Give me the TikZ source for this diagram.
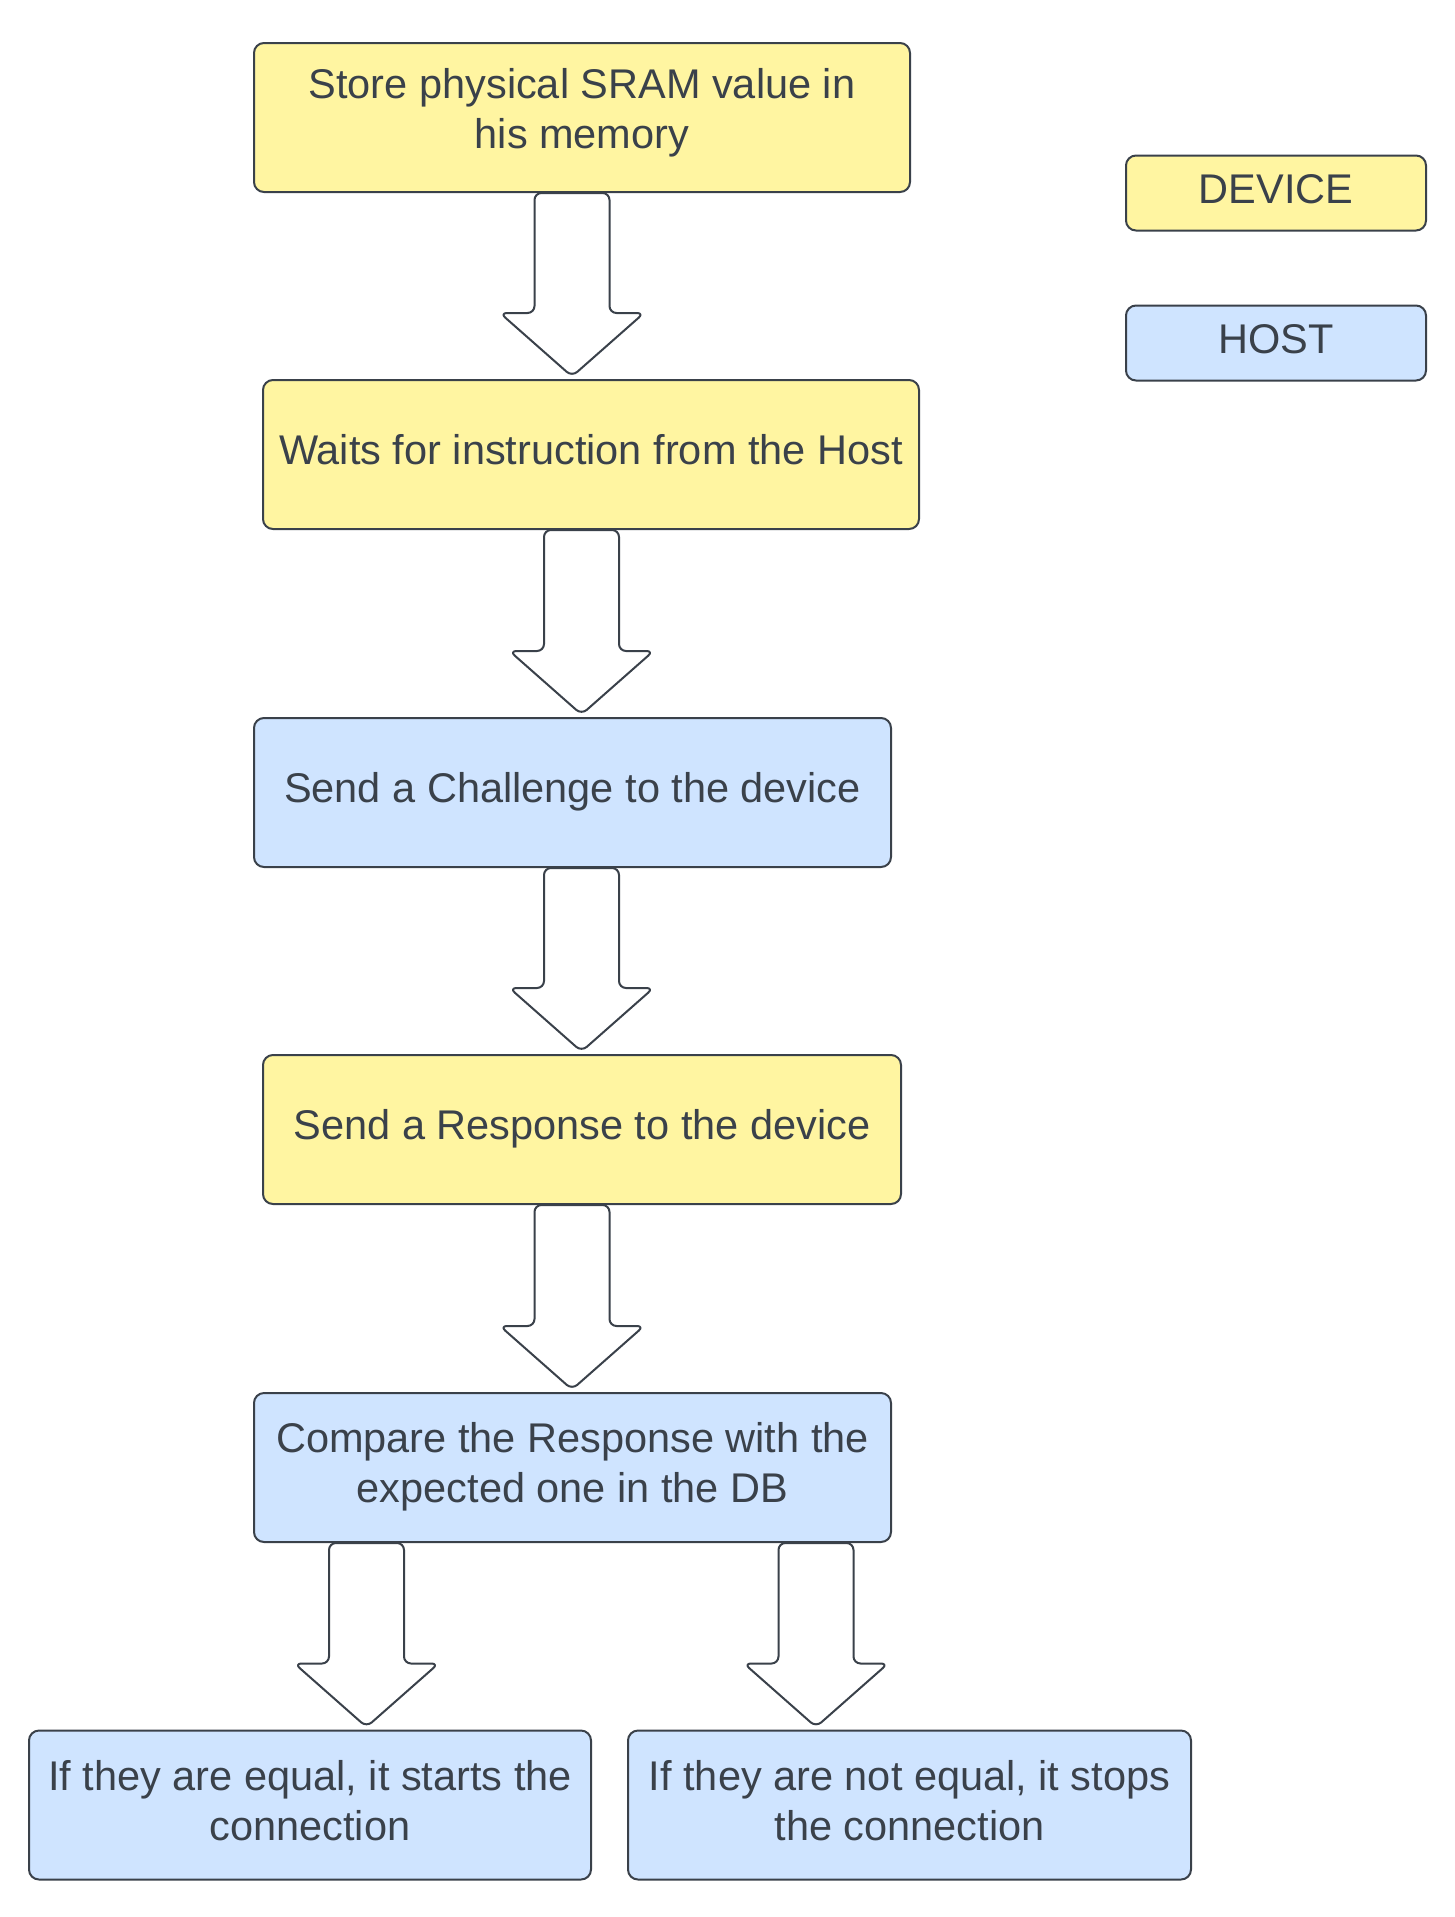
\documentclass[tikz,border=0pt]{standalone}
\usepackage{fontspec}
\setmainfont{Liberation Sans}
\usetikzlibrary{calc}
\definecolor{devfill}{HTML}{FFF5A1}
\definecolor{hostfill}{HTML}{CFE4FF}
\definecolor{ink}{HTML}{3A414A}
\newcommand\lowstrut[1]{\rule[-#1]{0pt}{1pt}}
\tikzset{
  box/.style={draw=ink, line width=2pt, rounded corners=10pt, inner sep=0pt,
    align=center, text=ink, font={\fontsize{41.5}{50}\selectfont},
    minimum height=149pt},
  devbox/.style={box, fill=devfill},
  hostbox/.style={box, fill=hostfill},
  legbox/.style={box, minimum height=75pt, minimum width=300pt},
  blockarrow/.style={draw=ink, line width=2pt, fill=white, rounded corners=7pt, line join=round},
}
\newcommand\blkarrow[3]{%
  \path (#2.south -| #1) coordinate (s) (#3.north -| #1) coordinate (e);
  \draw[blockarrow] ($(s)+(-37.5,0)$) -- ($(e)+(-37.5,-66)$) -- ($(e)+(-72,-66)$)
    -- ($(e)+(0,-2.5)$) -- ($(e)+(72,-66)$) -- ($(e)+(37.5,-66)$) -- ($(s)+(37.5,0)$) -- cycle;
}
\begin{document}
\begin{tikzpicture}[x=1pt,y=-1pt]
\fill[white] (0,0) rectangle (1455,1917);
\useasboundingbox (0,0) rectangle (1455,1917);

\node[devbox, minimum width=656pt] (b1) at (582,117.5) {\strut Store physical SRAM value in\\his memory\lowstrut{23pt}};
\node[devbox, minimum width=656pt] (b2) at (591,454.5) {\strut Waits for instruction from the Host};
\node[hostbox, minimum width=637pt] (b3) at (572.5,792.5) {\strut Send a Challenge to the device};
\node[devbox, minimum width=638pt] (b4) at (582,1129.5) {\strut Send a Response to the device};
\node[hostbox, minimum width=637pt] (b5) at (572.5,1467.5) {\strut Compare the Response with the\\expected one in the DB\strut};
\node[hostbox, minimum width=562pt] (b6) at (310,1805) {\strut If they are equal, it starts the\\connection\strut};
\node[hostbox, minimum width=563pt] (b7) at (909.5,1805) {\strut If they are not equal, it stops\\the connection\strut};

\node[legbox, fill=devfill] (legD) at (1276,193) {\strut DEVICE};
\node[legbox, fill=hostfill] (legH) at (1276,343) {\strut HOST};

\coordinate (ax1) at (572,0);
\coordinate (ax2) at (581.5,0);
\coordinate (ax3) at (581.5,0);
\coordinate (ax4) at (572,0);
\coordinate (ax5) at (366.5,0);
\coordinate (ax6) at (816,0);

\blkarrow{ax1}{b1}{b2}
\blkarrow{ax2}{b2}{b3}
\blkarrow{ax3}{b3}{b4}
\blkarrow{ax4}{b4}{b5}
\blkarrow{ax5}{b5}{b6}
\blkarrow{ax6}{b5}{b7}
\end{tikzpicture}
\end{document}
